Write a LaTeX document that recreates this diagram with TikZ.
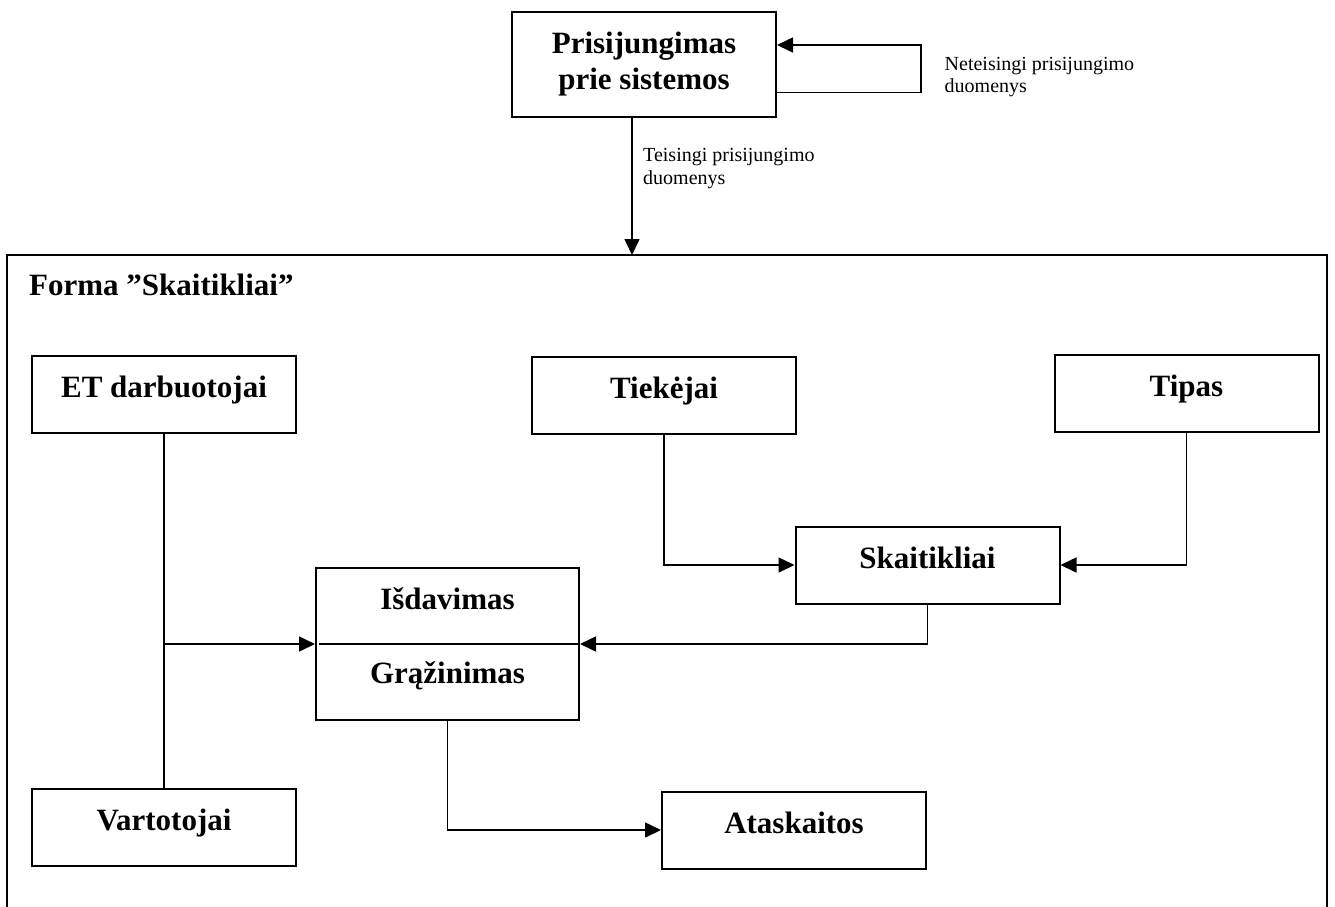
\documentclass[tikz,border=0pt]{standalone}
\usepackage{fontspec}
\setmainfont{Liberation Serif}
\usetikzlibrary{arrows.meta,calc}

\begin{document}
\begin{tikzpicture}[x=1pt,y=-1pt,
  box/.style={draw, line width=2pt, inner sep=0pt, minimum width=264pt,
    minimum height=77pt, text height=25pt, text depth=18pt,
    font=\bfseries\fontsize{31}{36}\selectfont},
  boxtext/.style={inner sep=0pt, anchor=base, font=\bfseries\fontsize{31}{36}\selectfont},
  note/.style={inner sep=0pt, anchor=north west, align=left,
    font=\fontsize{20}{22.5}\selectfont},
  conn/.style={line width=1.6pt},
  arr/.style={conn, -{Triangle[length=16pt,width=15pt]}}]

\useasboundingbox (0,0) rectangle (1335,906);

% login step and its retry loop
\node[box, minimum height=105pt, text height=, text depth=, align=center]
  (login) at (644,64.5) {Prisijungimas\\prie sistemos};
\draw[arr] ([yshift=-28pt]login.east) -- ++(144,0) |- ([yshift=19.5pt]login.east);
\node[note] (lblbad) at (944.5,57) {Neteisingi prisijungimo\\duomenys};

% main form frame (open at the bottom)
\coordinate (frametop) at (632,255);
\draw[line width=2pt] (7,915) -- (7,255) -- (1327,255) -- (1327,915);
\node[inner sep=0pt, anchor=base west, font=\bfseries\fontsize{31}{36}\selectfont]
  (title) at (29,295) {Forma ”Skaitikliai”};

\draw[arr] ([xshift=-12pt]login.south) -- (frametop);
\node[note] (lblok) at (643,148.5) {Teisingi prisijungimo\\duomenys};

% entity boxes
\node[box] (et)    at (164,394)    {ET darbuotojai};
\node[box] (tiek)  at (664,395)    {Tiekėjai};
\node[box] (tipas) at (1186.5,393) {Tipas};
\node[box] (skait) at (927.5,565)  {Skaitikliai};
\node[box] (vart)  at (164,827)    {Vartotojai};
\node[box] (atask) at (794,830)    {Ataskaitos};

% issue / return box split in two halves
\node[draw, line width=2pt, inner sep=0pt, minimum width=263pt, minimum height=152pt]
  (isd) at (447.5,644) {};
\draw[line width=2pt] ([xshift=4pt]isd.west) -- (isd.east);
\node[boxtext] (isdup) at (447.5,609) {Išdavimas};
\node[boxtext] (isddn) at (447.5,683) {Grąžinimas};

% connectors
\draw[conn] (et.south) -- (vart.north);
\coordinate (jn) at (et.south |- isd.west);
\draw[arr] (jn) -- (isd.west);
\draw[arr] (tiek.south) |- (skait.west);
\draw[arr] (tipas.south) |- (skait.east);
\draw[arr] (skait.south) |- (isd.east);
\draw[arr] (isd.south) |- (atask.west);
\end{tikzpicture}
\end{document}
